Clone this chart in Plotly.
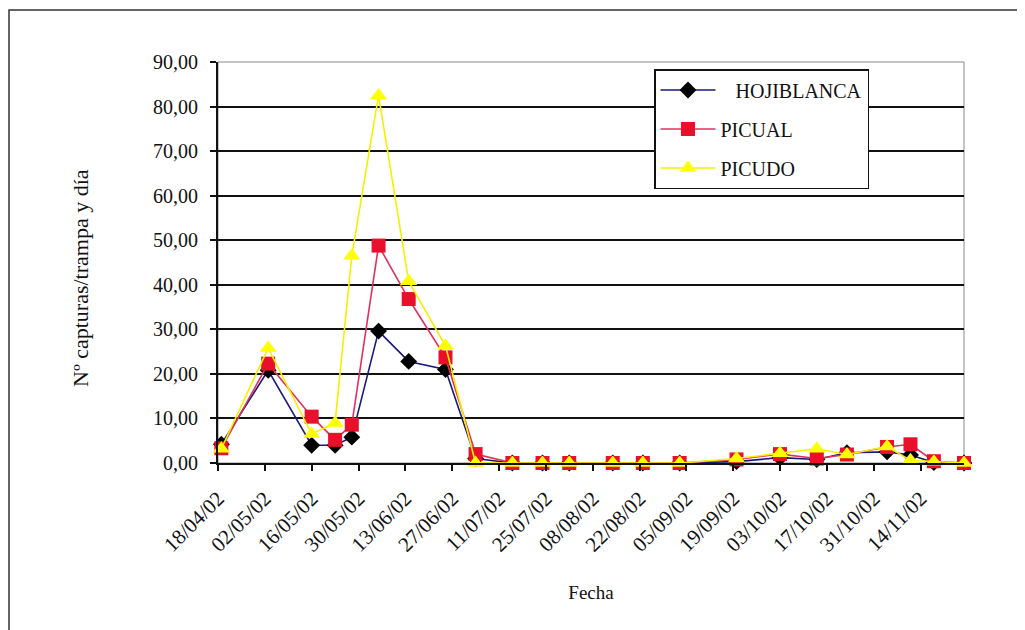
import plotly.graph_objects as go

# ---- data ----
fechas = ["2002-04-19", "2002-05-03", "2002-05-16", "2002-05-23", "2002-05-28",
          "2002-06-05", "2002-06-14", "2002-06-25", "2002-07-04", "2002-07-15",
          "2002-07-24", "2002-08-01", "2002-08-14", "2002-08-23", "2002-09-03",
          "2002-09-20", "2002-10-03", "2002-10-14", "2002-10-23", "2002-11-04",
          "2002-11-11", "2002-11-18", "2002-11-27"]
hojiblanca = [4.2, 20.8, 4.0, 4.0, 5.8, 29.6, 22.8, 21.0, 1.0, 0, 0, 0, 0, 0, 0,
              0.3, 1.2, 0.8, 2.3, 2.5, 1.8, 0.1, 0]
picual = [3.3, 22.3, 10.4, 5.2, 8.6, 48.8, 36.8, 23.7, 2.0, 0, 0, 0, 0, 0, 0,
          0.8, 2.0, 1.0, 1.9, 3.6, 4.2, 0.4, 0]
picudo = [3.2, 25.8, 6.5, 9.0, 46.5, 82.5, 40.8, 26.3, 0, 0, 0, 0, 0, 0, 0,
          1.0, 2.2, 3.2, 1.9, 3.7, 0.6, 0.3, 0]

tick_fechas = ["2002-04-18", "2002-05-02", "2002-05-16", "2002-05-30", "2002-06-13",
               "2002-06-27", "2002-07-11", "2002-07-25", "2002-08-08", "2002-08-22",
               "2002-09-05", "2002-09-19", "2002-10-03", "2002-10-17", "2002-10-31",
               "2002-11-14"]
tick_labels = ["18/04/02", "02/05/02", "16/05/02", "30/05/02", "13/06/02", "27/06/02",
               "11/07/02", "25/07/02", "08/08/02", "22/08/02", "05/09/02", "19/09/02",
               "03/10/02", "17/10/02", "31/10/02", "14/11/02"]
y_ticks = [0, 10, 20, 30, 40, 50, 60, 70, 80, 90]

FONT = "Liberation Serif"

fig = go.Figure()
fig.add_trace(go.Scatter(
    x=fechas, y=hojiblanca, name="\u00a0\u00a0 HOJIBLANCA", mode="lines+markers",
    line=dict(color="#1a1a7a", width=1.6),
    marker=dict(symbol="diamond", size=13, color="#000000"),
    legendgroup="a", cliponaxis=False))
fig.add_trace(go.Scatter(
    x=fechas, y=picual, name="PICUAL", mode="lines+markers",
    line=dict(color="#e0305e", width=1.6),
    marker=dict(symbol="square", size=14, color="#e8102a"),
    legendgroup="b", cliponaxis=False))
fig.add_trace(go.Scatter(
    x=fechas, y=picudo, name="PICUDO", mode="lines+markers",
    line=dict(color="#f5f000", width=1.6),
    marker=dict(symbol="triangle-up", size=15, color="#ffff00"),
    legendgroup="c", cliponaxis=False))

# page offset of the plot div (body margin)
OFF = 8
W, H = 1025 - OFF, 630 - OFF
PL, PR, PT, PB = 218, 964, 62, 463   # plot area in page pixels
pw, ph = PR - PL, PB - PT

def px(x):
    return (x - PL) / pw

def py(y):
    return (PB - y) / ph

fig.update_layout(
    width=W, height=H,
    margin=dict(l=PL - OFF, r=W + OFF - PR, t=PT - OFF, b=H + OFF - PB, pad=0),
    paper_bgcolor="white", plot_bgcolor="white",
    separators=",.",
    font=dict(family=FONT, size=19, color="#111111"),
    showlegend=True,
    legend=dict(
        x=px(654), y=py(69), xanchor="left", yanchor="top",
        bgcolor="white", bordercolor="#111111", borderwidth=1.5,
        font=dict(family=FONT, size=20, color="#111111"),
        tracegroupgap=10, itemwidth=55,
    ),
    shapes=[
        dict(type="rect", xref="paper", yref="paper", x0=0, y0=0, x1=1, y1=1,
             line=dict(color="#888888", width=1), layer="below"),
        dict(type="rect", xref="paper", yref="paper", x0=px(9), y0=py(640),
             x1=px(1018), y1=py(10), line=dict(color="#333333", width=1.5)),
    ],
    annotations=[
        dict(text="Nº capturas/trampa y día", xref="paper", yref="paper",
             x=px(80), y=py(278), xanchor="center", yanchor="middle",
             textangle=-90, showarrow=False,
             font=dict(family=FONT, size=22, color="#111111")),
    ],
)

fig.update_xaxes(
    type="date", range=["2002-04-18", "2002-11-27"],
    tickvals=tick_fechas, ticktext=tick_labels, tickangle=-45,
    tickfont=dict(family=FONT, size=21, color="#111111"),
    ticks="outside", ticklen=6, tickwidth=1.5, tickcolor="#111111",
    ticklabelstandoff=7,
    showline=True, linecolor="#111111", linewidth=2,
    showgrid=False, zeroline=False,
    title=dict(text="Fecha", font=dict(family=FONT, size=19, color="#111111"), standoff=30),
)
fig.update_yaxes(
    range=[0, 90], tickvals=y_ticks, tickformat=".2f",
    tickfont=dict(family=FONT, size=20, color="#111111"),
    ticks="outside", ticklen=6, tickwidth=1.5, tickcolor="#111111",
    ticklabelstandoff=8,
    showline=True, linecolor="#111111", linewidth=2,
    showgrid=True, gridcolor="#111111", gridwidth=1.5, zeroline=False,
)

fig.write_html("out.html")
